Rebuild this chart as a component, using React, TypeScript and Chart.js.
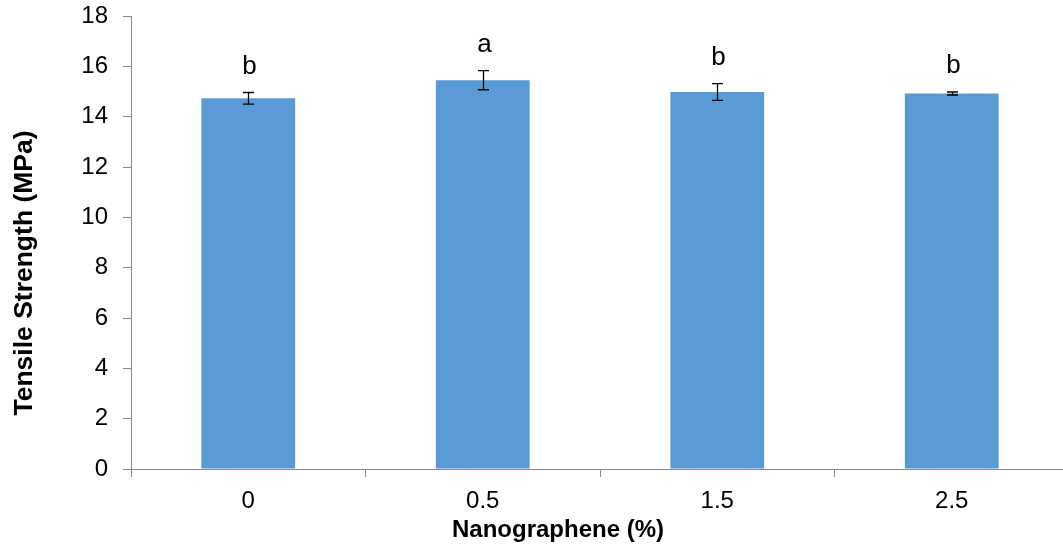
import React, { useEffect, useRef } from "react";
import { Chart, registerables } from "chart.js";

Chart.register(...registerables);

const categories = ["0", "0.5", "1.5", "2.5"];
const strengthValues = [14.73, 15.45, 14.98, 14.92];
const strengthErrors = [0.23, 0.38, 0.33, 0.06];
const groupLetters = ["b", "a", "b", "b"];
const yTicks = [0, 2, 4, 6, 8, 10, 12, 14, 16, 18];
const xTitle = "Nanographene (%)";
const yTitle = "Tensile Strength (MPa)";

const FONT = "'Liberation Sans', Arial, sans-serif";

const errorBarPlugin = {
  id: "errorBars",
  afterDatasetsDraw(chart: any) {
    const { ctx, scales } = chart;
    const meta = chart.getDatasetMeta(0);
    const y = scales.y;
    ctx.save();
    meta.data.forEach((bar: any, i: number) => {
      const v = strengthValues[i];
      const e = strengthErrors[i];
      const x = Math.round(bar.x) + 0.5;
      const yTop = y.getPixelForValue(v + e);
      const yBot = y.getPixelForValue(v - e);
      ctx.strokeStyle = "#000";
      ctx.lineWidth = 1.3;
      ctx.beginPath();
      ctx.moveTo(x, yTop);
      ctx.lineTo(x, yBot);
      ctx.moveTo(x - 5.5, yTop);
      ctx.lineTo(x + 5.5, yTop);
      ctx.moveTo(x - 5.5, yBot);
      ctx.lineTo(x + 5.5, yBot);
      ctx.stroke();
      ctx.fillStyle = "#000";
      ctx.font = `26px ${FONT}`;
      ctx.textAlign = "center";
      ctx.textBaseline = "alphabetic";
      ctx.fillText(groupLetters[i], x + 1, yTop - 19);
    });
    ctx.restore();
  },
};

const titlesPlugin = {
  id: "axisTitles",
  afterDraw(chart: any) {
    const { ctx } = chart;
    ctx.save();
    ctx.fillStyle = "#000";
    ctx.textAlign = "center";
    ctx.textBaseline = "alphabetic";
    ctx.font = `bold 24px ${FONT}`;
    ctx.fillText(xTitle, 558, 537);
    ctx.translate(32, 273);
    ctx.rotate(-Math.PI / 2);
    ctx.font = `bold 26.5px ${FONT}`;
    ctx.fillText(yTitle, 0, 0);
    ctx.restore();
  },
};

export default function App() {
  const ref = useRef<HTMLCanvasElement | null>(null);
  useEffect(() => {
    if (!ref.current) return;
    const chart = new Chart(ref.current, {
      type: "bar",
      data: {
        labels: categories,
        datasets: [
          {
            data: strengthValues,
            backgroundColor: "#5B9BD5",
            borderWidth: 0,
            barPercentage: 0.4,
            categoryPercentage: 1,
          },
        ],
      },
      options: {
        responsive: false,
        animation: false,
        layout: { padding: { top: 16, right: 0, left: 0, bottom: 0 } },
        plugins: { legend: { display: false }, tooltip: { enabled: false } },
        scales: {
          x: {
            afterFit: (s: any) => {
              s.height = 81;
              s.paddingLeft = 0;
              s.paddingRight = 0;
            },
            grid: {
              offset: true,
              drawOnChartArea: false,
              drawTicks: true,
              tickLength: 8,
              color: "#898989",
            },
            border: { color: "#898989", width: 1 },
            ticks: {
              color: "#000",
              font: { family: FONT, size: 24 },
              padding: 10,
            },
          },
          y: {
            min: 0,
            max: 18,
            afterFit: (s: any) => {
              s.width = 131;
              s.paddingTop = 0;
              s.paddingBottom = 0;
            },
            afterBuildTicks: (s: any) => {
              s.ticks = yTicks.map((v) => ({ value: v }));
            },
            grid: {
              drawOnChartArea: false,
              drawTicks: true,
              tickLength: 8,
              color: "#898989",
            },
            border: { color: "#898989", width: 1 },
            ticks: {
              color: "#000",
              font: { family: FONT, size: 24 },
              padding: 15,
            },
          },
        },
      },
      plugins: [errorBarPlugin, titlesPlugin],
    });
    return () => chart.destroy();
  }, []);
  return (
    <div
      style={{
        position: "absolute",
        left: 0,
        top: 0,
        width: 1063,
        height: 550,
        overflow: "hidden",
        background: "#fff",
      }}
    >
      <canvas ref={ref} width={1069} height={550} style={{ display: "block" }} />
    </div>
  );
}
